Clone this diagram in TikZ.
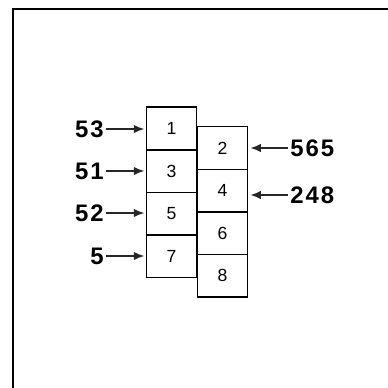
\documentclass[tikz,border=0pt]{standalone}
\usepackage{fontspec}
\setmainfont{Liberation Sans}
\usepackage{tikz}
\usetikzlibrary{arrows.meta,positioning}

\begin{document}
\begin{tikzpicture}[
  x=0.025cm,y=-0.025cm,
  node distance=0pt,
  cell/.style={draw,line width=1pt,outer sep=0pt,minimum width=1.25cm,
    minimum height=1.065cm,inner sep=0pt,font=\fontsize{12.5}{12.5}\selectfont},
  tag/.style={inner sep=1.5pt,font=\fontsize{17}{17}\selectfont\bfseries\addfontfeatures{LetterSpace=8}},
  arrow/.style={-{Latex[length=7.5pt,width=6pt]},line width=1.1pt,draw=black!85},
  frame/.style={line width=1.4pt}
]
\useasboundingbox (0,0) rectangle (388,388);
\draw[frame] (13,388) -- (13,9) -- (388,9);

% left column
\node[cell] (b1) at (171.5,128.5) {1};
\node[cell,below=of b1] (b3) {3};
\node[cell,below=of b3] (b5) {5};
\node[cell,below=of b5] (b7) {7};
% right column
\node[cell] (b2) at (222.5,148) {2};
\node[cell,below=of b2] (b4) {4};
\node[cell,below=of b4] (b6) {6};
\node[cell,below=of b6] (b8) {8};

\node[tag,anchor=east] (l53) at (106,129) {53};
\node[tag,anchor=east] (l51) at (106,171) {51};
\node[tag,anchor=east] (l52) at (106,213) {52};
\node[tag,anchor=east] (l5) at (106,256) {5};
\node[tag,anchor=west] (l565) at (288,148) {565};
\node[tag,anchor=west] (l248) at (288,195) {248};

\draw[arrow,shorten >=1.5pt] (l53.east) -- (l53.east -| b1.west);
\draw[arrow,shorten >=1.5pt] (l51.east) -- (l51.east -| b3.west);
\draw[arrow,shorten >=1.5pt] (l52.east) -- (l52.east -| b5.west);
\draw[arrow,shorten >=1.5pt] (l5.east) -- (l5.east -| b7.west);
\draw[arrow,shorten >=2pt] (l565.west) -- (l565.west -| b2.east);
\draw[arrow,shorten >=2pt] (l248.west) -- (l248.west -| b4.east);
\end{tikzpicture}
\end{document}
